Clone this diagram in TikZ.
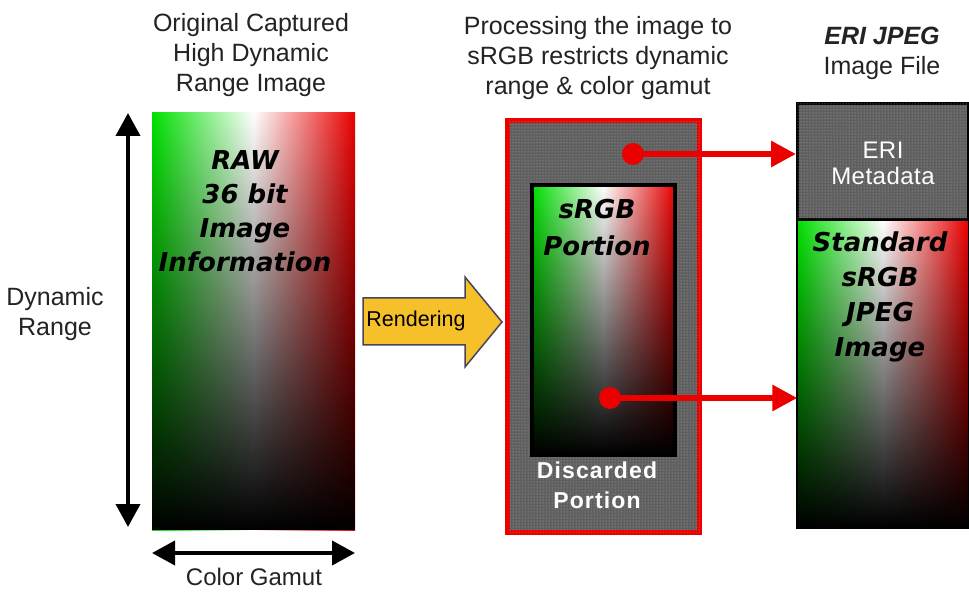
\documentclass[tikz,border=0pt]{standalone}
\usepackage{fontspec}
\setmainfont{Liberation Sans}
\newfontfamily\heavyobl{DejaVu Sans Bold Oblique}
\usetikzlibrary{fadings,patterns,arrows.meta}

\definecolor{grn}{RGB}{0,225,0}
\definecolor{rd}{RGB}{235,0,0}
\definecolor{ink}{RGB}{35,35,35}
\definecolor{stone}{RGB}{95,95,95}
\definecolor{speck}{RGB}{175,175,175}
\definecolor{gold}{RGB}{246,192,42}
\definecolor{goldrim}{RGB}{70,70,90}

% darkening towards the bottom of each colour field
\tikzfading[name=fadebottom, top color=transparent!100, bottom color=transparent!0]

\tikzset{
  gradbox/.style={inner sep=0pt, left color=grn, right color=rd, middle color=white},
  greybox/.style={inner sep=0pt, fill=stone, postaction={pattern=dots, pattern color=speck}},
  caption/.style={align=center, text=ink, font=\fontsize{25}{30}\selectfont},
  heavy/.style={align=center, text=black, font=\heavyobl\fontsize{26}{34}\selectfont},
  whitetxt/.style={align=center, text=white, font=\bfseries\fontsize{23}{30}\selectfont\addfontfeatures{LetterSpace=5}},
  reddot/.style={circle, fill=rd, inner sep=0pt, minimum size=22pt},
  redarrow/.style={draw=rd, line width=6pt, -{Triangle[length=25pt,width=25pt]}},
  blackarrow/.style={draw=black, line width=4pt, {Triangle[length=23pt,width=24pt]}-{Triangle[length=23pt,width=24pt]}},
}

\begin{document}
\begin{tikzpicture}[x=1pt,y=-1pt]
\useasboundingbox[fill=white] (0,0) rectangle (969,593);

% ---- captured HDR image ----
\node[gradbox, minimum width=203pt, minimum height=417pt] (raw) at (253.5,321.5) {};
\fill[black, path fading=fadebottom] (raw.south west) rectangle (raw.north east);
\node[heavy] (rawtxt) at (245,211) {RAW\\36 bit\\Image\\Information};

\node[caption] (title1) at (251,55) {Original Captured\\High Dynamic\\Range Image};

\coordinate (dyntop) at (128,113);
\coordinate (dynbot) at (128,527);
\draw[blackarrow] (dyntop) -- (dynbot);
\node[caption] (dyn) at (55,314) {Dynamic\\Range};

\coordinate (gamleft) at (152,553);
\coordinate (gamright) at (355,553);
\draw[blackarrow] (gamleft) -- (gamright);
\node[caption, font=\fontsize{24}{28}\selectfont] (gam) at (254,577) {Color Gamut};

% ---- rendering step ----
\filldraw[fill=gold, draw=goldrim, line width=1.5pt]
  (363,298) -- (465,298) -- (465,277) -- (502,322) -- (465,367) -- (465,345) -- (363,345) -- cycle;
\node[text=black, font=\fontsize{21.5}{26}\selectfont] (rend) at (416,321) {Rendering};

% ---- sRGB processing ----
\node[caption] (title2) at (598,58) {Processing the image to\\sRGB restricts dynamic\\range \& color gamut};
\node[greybox, draw=rd, line width=5pt, minimum width=192pt, minimum height=412pt] (disc) at (603.5,326.5) {};
\node[gradbox, minimum width=143pt, minimum height=270pt] (srgb) at (603.5,320) {};
\fill[black, path fading=fadebottom] (srgb.south west) rectangle (srgb.north east);
\draw[black, line width=4pt] (srgb.south west) rectangle (srgb.north east);
\node[heavy, font=\heavyobl\fontsize{26}{37}\selectfont] (srgbtxt) at (597,228) {sRGB\\Portion};
\node[whitetxt] (disctxt) at (597,485) {Discarded\\Portion};

% ---- ERI JPEG file ----
\node[caption, font=\fontsize{25}{30}\selectfont] (title3) at (882,53) {\textbf{\textit{ERI JPEG}}\\Image File};
\node[greybox, draw=black, line width=3pt, minimum width=171pt, minimum height=116pt] (meta) at (883,162) {};
\node[whitetxt, font=\fontsize{24}{26}\selectfont\addfontfeatures{LetterSpace=2}] (metatxt) at (883,163) {ERI\\Metadata};
\node[gradbox, minimum width=171pt, minimum height=308pt] (jpeg) at (883,374) {};
\fill[black, path fading=fadebottom] (jpeg.south west) rectangle (jpeg.north east);
\draw[black, line width=2pt] (jpeg.south west) rectangle (jpeg.north east);
\node[heavy, font=\heavyobl\fontsize{26}{35}\selectfont] (jpegtxt) at (880,297) {Standard\\sRGB\\JPEG\\Image};

% ---- data flow into the file ----
\node[reddot] (d1) at (633,154) {};
\node[reddot] (d2) at (610,398) {};
\draw[redarrow] (d1.center) -- (d1.center -| meta.west);
\draw[redarrow] (d2.center) -- (d2.center -| jpeg.west);
\end{tikzpicture}
\end{document}
